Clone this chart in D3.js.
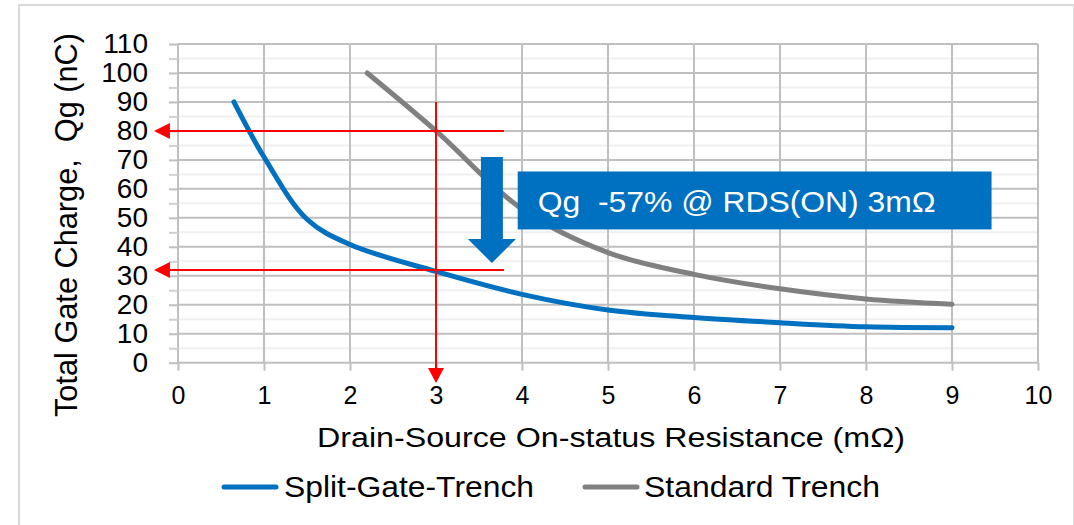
<!DOCTYPE html>
<html>
<head>
<meta charset="utf-8">
<title>Qg vs RDS(ON)</title>
<script src="https://cdn.jsdelivr.net/npm/d3@7"></script>
<style>
    body { margin: 0; background: #fff; }
    svg text { font-family: "Liberation Sans", Arial, sans-serif; fill: #000; }
</style>
</head>
<body>
<script>
// data
var xTickLabels = [0, 1, 2, 3, 4, 5, 6, 7, 8, 9, 10];
var yTickLabels = [0, 10, 20, 30, 40, 50, 60, 70, 80, 90, 100, 110];
var yMinorTicks = [5, 15, 25, 35, 45, 55, 65, 75, 85, 95, 105];

var seriesNames = ["Split-Gate-Trench", "Standard Trench"];
var sgtRds = [0.65, 1, 1.5, 2, 3, 4, 5, 6, 7, 8, 9];
var sgtQg  = [90, 71, 49.5, 40.8, 31.5, 23.6, 18.2, 15.6, 13.8, 12.4, 12.1];
var stdRds = [2.2, 3, 4, 5, 6, 7, 8, 9];
var stdQg  = [100, 80, 53, 38, 30.5, 25.5, 22, 20.2];

// red guide lines (data units)
var guideQg = [80, 32];
var guideRds = 3;
var annotation = "Qg  -57% @ RDS(ON) 3mΩ";

var W = 1074, H = 525;
var svg = d3.select("body").append("svg")
    .attr("width", W).attr("height", H);

svg.append("rect")
    .attr("x", 19).attr("y", 5)
    .attr("width", W - 19).attr("height", H)
    .attr("fill", "#fff").attr("stroke", "#d9d9d9").attr("stroke-width", 2);

var x = d3.scaleLinear().domain([0, 10]).range([178, 1038]);
var y = d3.scaleLinear().domain([0, 110]).range([362.7, 44]);

// minor gridlines
svg.append("g")
    .selectAll("line").data(yMinorTicks).enter().append("line")
    .attr("x1", x(0)).attr("x2", x(10))
    .attr("y1", function (d) { return y(d); })
    .attr("y2", function (d) { return y(d); })
    .attr("stroke", "#f0f0f0").attr("stroke-width", 2);

// major gridlines
svg.append("g")
    .selectAll("line").data(yTickLabels).enter().append("line")
    .attr("x1", x(0)).attr("x2", x(10))
    .attr("y1", function (d) { return y(d); })
    .attr("y2", function (d) { return y(d); })
    .attr("stroke", "#bfbfbf").attr("stroke-width", 2);
svg.append("g")
    .selectAll("line").data(xTickLabels).enter().append("line")
    .attr("y1", y(0)).attr("y2", y(110))
    .attr("x1", function (d) { return x(d); })
    .attr("x2", function (d) { return x(d); })
    .attr("stroke", "#bfbfbf").attr("stroke-width", 2);

// axes
var yAxis = d3.axisLeft(y).tickValues(yTickLabels).tickSize(9).tickPadding(21);
var gy = svg.append("g").attr("transform", "translate(" + x(0) + ",0)").call(yAxis);
gy.select(".domain").remove();
gy.selectAll("line").attr("stroke", "#bfbfbf").attr("stroke-width", 2);
gy.selectAll("text").style("font-size", "28px").attr("fill", "#000");

var yMinor = d3.axisLeft(y).tickValues(yMinorTicks).tickSize(9).tickFormat("");
var gym = svg.append("g").attr("transform", "translate(" + x(0) + ",0)").call(yMinor);
gym.select(".domain").remove();
gym.selectAll("line").attr("stroke", "#d0d0d0").attr("stroke-width", 2);

var xAxis = d3.axisBottom(x).tickValues(xTickLabels).tickSize(8).tickPadding(16);
var gx = svg.append("g").attr("transform", "translate(0," + y(0) + ")").call(xAxis);
gx.select(".domain").remove();
gx.selectAll("line").attr("stroke", "#bfbfbf").attr("stroke-width", 2);
gx.selectAll("text").style("font-size", "25px").attr("fill", "#000");

// axis titles
svg.append("text")
    .attr("transform", "translate(77,225) rotate(-90)")
    .attr("text-anchor", "middle")
    .attr("textLength", 384).attr("lengthAdjust", "spacingAndGlyphs")
    .style("font-size", "32px")
    .style("white-space", "pre")
    .text("Total Gate Charge,  Qg (nC)");

svg.append("text")
    .attr("x", 317).attr("y", 447)
    .attr("textLength", 588).attr("lengthAdjust", "spacingAndGlyphs")
    .style("font-size", "27px")
    .text("Drain-Source On-status Resistance (mΩ)");

// series
var line = d3.line()
    .x(function (d) { return x(d[0]); })
    .y(function (d) { return y(d[1]); })
    .curve(d3.curveCatmullRom.alpha(0.5));

var series = [
    { name: seriesNames[0], color: "#0070c0", pts: d3.zip(sgtRds, sgtQg) },
    { name: seriesNames[1], color: "#808080", pts: d3.zip(stdRds, stdQg) }
];

svg.append("g").selectAll("path").data(series).enter().append("path")
    .attr("d", function (d) { return line(d.pts); })
    .attr("fill", "none")
    .attr("stroke", function (d) { return d.color; })
    .attr("stroke-width", 5)
    .attr("stroke-linecap", "round");

// red guides with arrow heads
var red = "#ff0000";
var gr = svg.append("g");
gr.selectAll("line.h").data(guideQg).enter().append("line")
    .attr("x1", x(-0.28) + 14).attr("x2", x(3.79))
    .attr("y1", function (d) { return y(d); })
    .attr("y2", function (d) { return y(d); })
    .attr("stroke", red).attr("stroke-width", 2);
gr.selectAll("path.h").data(guideQg).enter().append("path")
    .attr("d", function (d) {
        var tx = x(-0.28), ty = y(d);
        return "M" + tx + "," + ty + "L" + (tx + 16) + "," + (ty - 8) + "L" + (tx + 16) + "," + (ty + 8) + "Z";
    })
    .attr("fill", red);
gr.append("line")
    .attr("x1", x(guideRds)).attr("x2", x(guideRds))
    .attr("y1", y(90)).attr("y2", y(-7) - 12)
    .attr("stroke", red).attr("stroke-width", 2);
gr.append("path")
    .attr("d", function () {
        var tx = x(guideRds), ty = y(-7);
        return "M" + tx + "," + ty + "L" + (tx - 8) + "," + (ty - 15) + "L" + (tx + 8) + "," + (ty - 15) + "Z";
    })
    .attr("fill", red);

// big blue down arrow
var ax = x(3.65), aTop = y(71), aHead = y(42.7), aTip = y(34.4);
svg.append("path")
    .attr("d", "M" + (ax - 11) + "," + aTop + "H" + (ax + 11) + "V" + aHead +
        "H" + (ax + 24) + "L" + ax + "," + aTip + "L" + (ax - 24) + "," + aHead +
        "H" + (ax - 11) + "Z")
    .attr("fill", "#0070c0");

// annotation box
svg.append("rect")
    .attr("x", x(3.95)).attr("y", y(66))
    .attr("width", x(9.46) - x(3.95)).attr("height", y(46) - y(66))
    .attr("fill", "#0070c0");
svg.append("text")
    .attr("x", x(3.95) + 20).attr("y", y(46) - 17)
    .attr("textLength", 398).attr("lengthAdjust", "spacingAndGlyphs")
    .style("font-size", "30px")
    .style("white-space", "pre")
    .style("fill", "#fff")
    .text(annotation);

// legend
var legendPos = [{ lx: 224, tx: 284, w: 250 }, { lx: 585, tx: 644, w: 236 }];
var lg = svg.append("g").selectAll("g").data(series).enter().append("g");
lg.append("line")
    .attr("x1", function (d, i) { return legendPos[i].lx; })
    .attr("x2", function (d, i) { return legendPos[i].lx + 52; })
    .attr("y1", 487).attr("y2", 487)
    .attr("stroke", function (d) { return d.color; })
    .attr("stroke-width", 5)
    .attr("stroke-linecap", "round");
lg.append("text")
    .attr("x", function (d, i) { return legendPos[i].tx; })
    .attr("y", 497)
    .attr("textLength", function (d, i) { return legendPos[i].w; })
    .attr("lengthAdjust", "spacingAndGlyphs")
    .style("font-size", "30px")
    .text(function (d) { return d.name; });
</script>
</body>
</html>
